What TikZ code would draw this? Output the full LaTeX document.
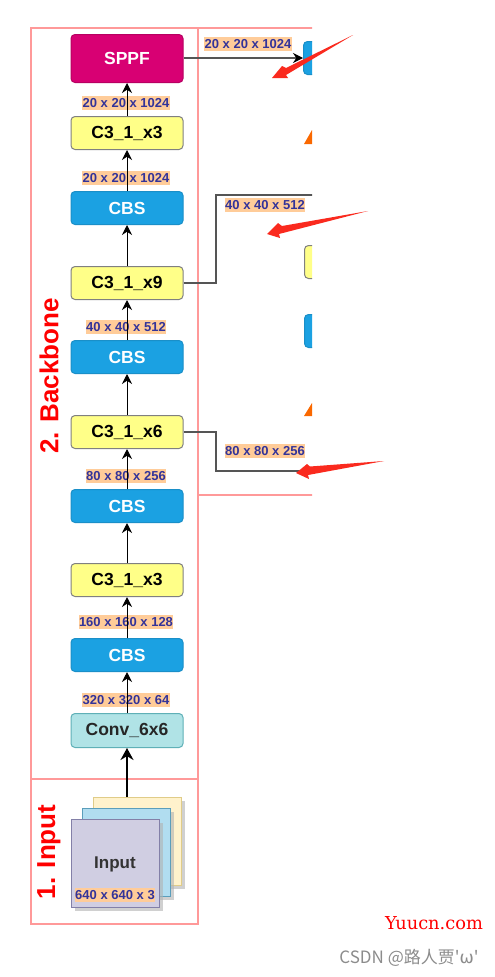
\documentclass[tikz,border=0pt]{standalone}
\usepackage{fontspec}
\setmainfont{Liberation Sans}
\newfontfamily\cjkf{Noto Sans CJK SC}
\newfontfamily\dejaf{DejaVu Sans}
\newfontfamily\dejas{DejaVu Serif}
\usetikzlibrary{arrows.meta,shadows}
\definecolor{frameC}{HTML}{FF9999}
\definecolor{labC}{HTML}{FFCC99}
\definecolor{labT}{HTML}{333399}
\definecolor{cbsC}{HTML}{1BA1E2}
\definecolor{cbsD}{HTML}{1A8FC8}
\definecolor{ylC}{HTML}{FFFF88}
\definecolor{sppfC}{HTML}{D80073}
\definecolor{convC}{HTML}{B0E3E6}
\definecolor{convD}{HTML}{5FB0B7}
\definecolor{grayL}{HTML}{555555}
\definecolor{orangeC}{HTML}{FA6800}
\definecolor{redA}{HTML}{FA2A1E}
\definecolor{shY}{HTML}{FFF2CC}
\definecolor{shYd}{HTML}{E0CC88}
\definecolor{shB}{HTML}{B1DDF0}
\definecolor{shBd}{HTML}{5B9EBB}
\definecolor{shP}{HTML}{D0CEE2}
\definecolor{shPd}{HTML}{8380A8}
\tikzset{
 block/.style={rounded corners=4pt,minimum width=112pt,inner sep=0pt,line width=1pt,font=\fontsize{17.5}{17.5}\selectfont\bfseries,anchor=north},
 cbs/.style={block,fill=cbsC,draw=cbsD,text=white,minimum height=33pt},
 cthree/.style={block,fill=ylC,draw=black!50,text=black,minimum height=33pt},
 sppf/.style={block,fill=sppfC,draw=sppfC!85!black,text=white,minimum height=48pt},
 convb/.style={block,fill=convC,draw=convD,text=black!85,minimum height=34pt},
 dim/.style={fill=labC,text=labT,font=\fontsize{13}{13}\selectfont\bfseries,inner xsep=.5pt,inner ysep=2pt},
 framel/.style={draw=frameC,line width=2pt},
 sheet/.style={line width=1pt,minimum width=88pt,minimum height=88pt,inner sep=0pt,anchor=north west,drop shadow={shadow xshift=3pt,shadow yshift=-3pt,fill=black!30,opacity=.6}},
 flow/.style={draw=black,line width=1pt,-{Stealth[length=10pt,width=10pt]}},
 link/.style={draw=grayL,line width=1.2pt},
 stage/.style={text=red,font=\fontsize{26}{26}\selectfont\bfseries,rotate=90},
 pointer/.style={fill=redA,draw=none}
}
\begin{document}
\begin{tikzpicture}[x=1pt,y=-1pt]
\useasboundingbox[fill=white] (0,0) rectangle (495,977);
% frames
\draw[framel] (31,28) rectangle (198,779);
\draw[framel] (31,779) rectangle (198,924);
\begin{scope}
 \clip (190,0) rectangle (312,977);
 \draw[framel] (198,28) rectangle (330,495);
 \node[cbs,minimum width=60pt,anchor=north west] (rA) at (303,41) {};
 \node[cthree,minimum width=60pt,anchor=north west] (rB) at (304,245) {};
 \node[cbs,minimum width=60pt,anchor=north west] (rC) at (304,314) {};
 \fill[orangeC] (304,144) -- (312,130) -- (312,144) -- cycle;
 \fill[orangeC] (304,416) -- (312,403) -- (312,416) -- cycle;
 \coordinate (e40) at (320,195);
 \coordinate (e80) at (320,471);
 \coordinate (k40) at (216,195);
 \coordinate (k80) at (216,471);
\end{scope}
\node[stage] (tB) at (49,376) {2. Backbone};
\node[stage] (tI) at (49,852) {1. Input};
% stacked input
\node[sheet,fill=shY,draw=shYd] (iY) at (93,797) {};
\node[sheet,fill=shB,draw=shBd] (iB) at (82,808) {};
\node[sheet,fill=shP,draw=shPd] (iP) at (71,819) {};
\node[font=\fontsize{17}{17}\selectfont\bfseries,text=black!80] (iT) at (115,864.5) {Input};
\node[dim] (l0) at (115,895) {640 x 640 x 3};
% dimension labels (under the lines)
\node[dim] (l1) at (126,103) {20 x 20 x 1024};
\node[dim] (l2) at (126,178) {20 x 20 x 1024};
\node[dim] (l3) at (126,327) {40 x 40 x 512};
\node[dim] (l4) at (126,476) {80 x 80 x 256};
\node[dim] (l5) at (126,622) {160 x 160 x 128};
\node[dim] (l6) at (126,700) {320 x 320 x 64};
\node[dim] (l7) at (248,44) {20 x 20 x 1024};
\node[dim] (l8) at (265,205) {40 x 40 x 512};
\node[dim] (l9) at (265,451) {80 x 80 x 256};
% backbone
\node[sppf] (s) at (127,34) {SPPF};
\node[cthree] (c1) at (127,116) {C3\_1\_x3};
\node[cbs] (b1) at (127,191) {CBS};
\node[cthree] (c2) at (127,266) {C3\_1\_x9};
\node[cbs] (b2) at (127,340) {CBS};
\node[cthree] (c3) at (127,415) {C3\_1\_x6};
\node[cbs] (b3) at (127,489) {CBS};
\node[cthree] (c4) at (127,563) {C3\_1\_x3};
\node[cbs] (b4) at (127,638) {CBS};
\node[convb] (cv) at (127,713) {Conv\_6x6};
% connectors
\draw[flow] (c1) -- (s);
\draw[flow] (b1) -- (c1);
\draw[flow] (c2) -- (b1);
\draw[flow] (b2) -- (c2);
\draw[flow] (c3) -- (b2);
\draw[flow] (b3) -- (c3);
\draw[flow] (c4) -- (b3);
\draw[flow] (b4) -- (c4);
\draw[flow] (cv) -- (b4);
\draw[draw=black,line width=2pt,-{Stealth[length=12pt,width=13pt]}] (iY.north -| cv) -- (cv);
\draw[link,-{Stealth[length=10pt,width=10pt,fill=black,color=black]}] (s.east |- rA.west) -- (rA.west);
\begin{scope}
 \clip (170,0) rectangle (312,977);
 \draw[link] (c2.east) -- (k40 |- c2.east) -- (k40) -- (e40);
 \draw[link] (c3.east) -- (k80 |- c3.east) -- (k80) -- (e80);
\end{scope}
% red pointers
\fill[pointer] (353,35) -- (286,68) -- (282,66) -- (272,78) -- (288,78) -- (286,75) -- cycle;
\fill[pointer] (368,211) -- (282,226) -- (278,223) -- (267,234) -- (280,238) -- (279,234) -- cycle;
\fill[pointer] (384,461) -- (310,466.5) -- (307,464) -- (296,473) -- (309,479) -- (308,475) -- cycle;
% watermark
\node[text=red,font=\fontsize{17.8}{17.8}\selectfont\dejas] (w1) at (434,923) {Yuucn.com};
\node[text=black!45,font=\fontsize{17}{17}\selectfont\cjkf] (w2) at (409,958) {CSDN @路人贾'{\dejaf ω}'};
\end{tikzpicture}
\end{document}
